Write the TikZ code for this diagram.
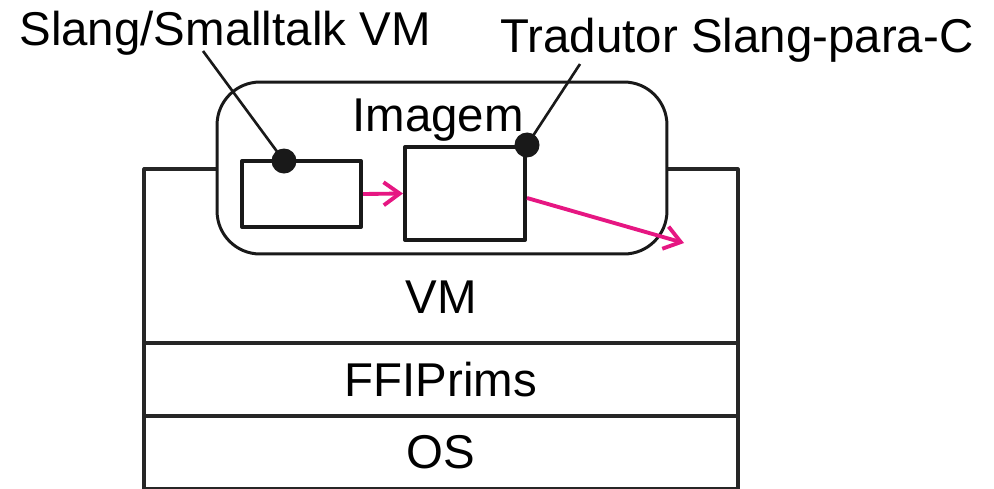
\documentclass[tikz,border=0pt]{standalone}
\usepackage{fontspec}
\setmainfont{Liberation Sans}
\usepackage{tikz}
\usetikzlibrary{arrows.meta,calc,positioning}
\definecolor{flowpink}{RGB}{230,22,130}
\newcommand{\lblfont}{\fontsize{27}{32}\selectfont}

\begin{document}
\begin{tikzpicture}[x=0.02cm,y=-0.02cm,line join=round,
  layer/.style={draw=black!85,line width=1.9pt,minimum width=11.88cm,inner sep=0pt,outer sep=0pt,font=\lblfont},
  imgbox/.style={draw=black!90,fill=white,line width=1.7pt,rounded corners=0.86cm,minimum width=9cm,minimum height=3.44cm},
  part/.style={draw=black!90,fill=white,line width=2.3pt,inner sep=0pt},
  dot/.style={circle,fill=black!90,inner sep=0pt,minimum size=0.5cm},
  leader/.style={black!90,line width=1.5pt},
  flow/.style={flowpink,line width=2.2pt,-{Straight Barb[length=0.32cm,width=0.46cm]}}]
  \useasboundingbox (0,0) rectangle (994,488);
  \node[layer,minimum height=3.48cm] (vm) at (441,256) {};
  \node[layer,minimum height=1.46cm,below=0pt of vm] (ffi) {FFIPrims};
  \node[layer,minimum height=1.46cm,below=0pt of ffi] (os) {OS};
  \node[font=\lblfont] (vmtxt) at ($(vm.south)+(0,-46)$) {VM};
  \node[imgbox] (img) at (442,168) {};
  \node[font=\lblfont,anchor=base] (imgtxt) at (438,131) {Imagem};
  \node[part,minimum width=2.38cm,minimum height=1.32cm] (slangvm) at (301.5,194) {};
  \node[part,minimum width=2.4cm,minimum height=1.86cm] (trad) at (465,193.5) {};
  \coordinate (out) at (684,243);
  \draw[flow] (slangvm.east) -- (trad.west);
  \draw[flow] ([yshift=-0.09cm]trad.east) -- (out);
  \node[dot] (dslang) at (284,161) {};
  \node[dot] (dtrad) at (trad.north east) {};
  \coordinate (lslang) at (203,51);
  \coordinate (ltrad) at (580,64);
  \draw[leader] (dslang.center) -- (lslang);
  \draw[leader] (dtrad.center) -- (ltrad);
  \node[font=\lblfont,anchor=base] (lblslang) at (225,45) {Slang/Smalltalk VM};
  \node[font=\lblfont,anchor=base] (lbltrad) at (737,52) {Tradutor Slang-para-C};
\end{tikzpicture}
\end{document}
